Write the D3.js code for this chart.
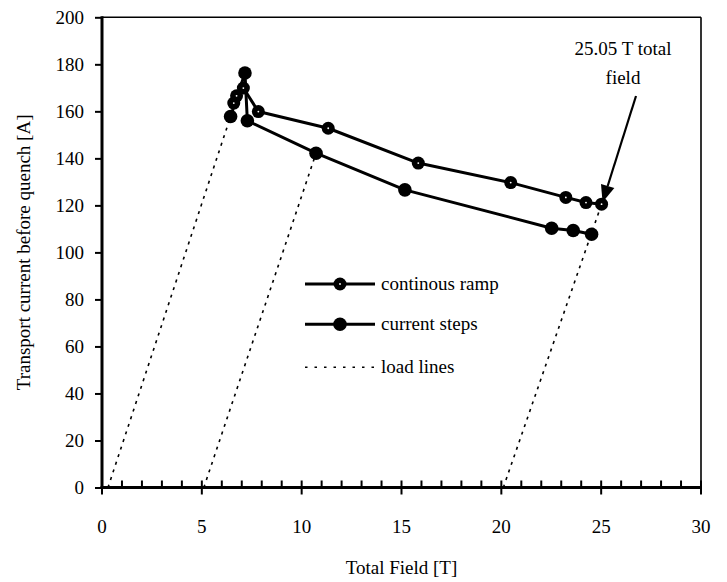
<!DOCTYPE html>
<html>
<head>
<meta charset="utf-8">
<script src="https://cdn.jsdelivr.net/npm/d3@7"></script>
<style>
html,body{margin:0;padding:0;background:#fff;}
svg{display:block;}
svg text{font-family:"Liberation Serif","Times New Roman",serif;}
</style>
</head>
<body>
<svg id="chart" width="727" height="582"></svg>
<script>
// Data (Total Field [T], Transport current [A])
const rampField   = [6.60, 6.74, 7.08, 7.83, 11.33, 15.84, 20.47, 23.23, 24.24, 25.02];
const rampCurrent = [163.5, 166.6, 169.9, 159.9, 152.8, 138.0, 129.7, 123.4, 121.2, 120.5];
const stepField   = [6.44, 7.16, 7.28, 10.72, 15.17, 22.52, 23.60, 24.52];
const stepCurrent = [157.8, 176.3, 156.0, 142.2, 126.6, 110.3, 109.3, 107.7];
const loadLines = [
  [[0.3, 0], [6.44, 157.8]],
  [[5.1, 0], [10.72, 142.2]],
  [[20.1, 0], [25.02, 120.5]]
];
const xTicks = [0, 5, 10, 15, 20, 25, 30];
const yTicks = [0, 20, 40, 60, 80, 100, 120, 140, 160, 180, 200];
const legendLabels = ["continous ramp", "current steps", "load lines"];
const annotationLines = ["25.05 T total", "field"];

const svg = d3.select("#chart");
const L = 102, R = 701, T = 17.3, B = 487.5;
const x = d3.scaleLinear().domain([0, 30]).range([L, R]);
const y = d3.scaleLinear().domain([0, 200]).range([B, T]);
const FS = 19;
const FF = "Liberation Serif";

// frame top/right
svg.append("line").attr("x1", L).attr("x2", R).attr("y1", T).attr("y2", T)
  .attr("stroke", "#000").attr("stroke-width", 1.6);
svg.append("line").attr("x1", R).attr("x2", R).attr("y1", T).attr("y2", B)
  .attr("stroke", "#000").attr("stroke-width", 1.6);

// load lines
const lineGen = d3.line().x(d => x(d[0])).y(d => y(d[1]));
loadLines.forEach(ll => {
  svg.append("path").attr("d", lineGen(ll)).attr("fill", "none")
    .attr("stroke", "#000").attr("stroke-width", 1.6).attr("stroke-dasharray", "3,5");
});

// series lines
const rampData = rampField.map((f, i) => [f, rampCurrent[i]]);
const stepData = stepField.map((f, i) => [f, stepCurrent[i]]);
[stepData, rampData].forEach(data => {
  svg.append("path").attr("d", lineGen(data)).attr("fill", "none")
    .attr("stroke", "#000").attr("stroke-width", 3).attr("stroke-linejoin", "round");
});

function rampMarker(g, cx, cy) {
  g.append("circle").attr("cx", cx).attr("cy", cy).attr("r", 6.5).attr("fill", "#000");
  g.append("circle").attr("cx", cx).attr("cy", cy).attr("r", 0.9).attr("fill", "#fff");
}
function stepMarker(g, cx, cy) {
  g.append("circle").attr("cx", cx).attr("cy", cy).attr("r", 6.8).attr("fill", "#000");
}
stepData.forEach(d => stepMarker(svg, x(d[0]), y(d[1])));
rampData.forEach(d => rampMarker(svg, x(d[0]), y(d[1])));

// axes
const xAxisG = svg.append("g").attr("transform", `translate(0,${B})`);
xAxisG.call(d3.axisBottom(x).tickValues(d3.range(0, 31, 1)).tickSize(0).tickFormat(""));
xAxisG.select(".domain").remove();
xAxisG.attr("font-family", FF).attr("font-size", FS);
d3.range(0, 31, 1).forEach(v => {
  const major = v % 5 === 0;
  xAxisG.append("line").attr("x1", x(v)).attr("x2", x(v))
    .attr("y1", -7).attr("y2", major ? 7 : 0)
    .attr("stroke", "#000").attr("stroke-width", 2);
});
xAxisG.selectAll(".xlab").data(xTicks).enter().append("text")
  .attr("x", d => x(d)).attr("y", 45).attr("text-anchor", "middle")
  .attr("font-family", FF).attr("font-size", FS).attr("fill", "#000").text(d => d);

const yAxisG = svg.append("g").attr("transform", `translate(${L},0)`);
yAxisG.call(d3.axisLeft(y).tickValues(yTicks).tickSize(7).tickPadding(11).tickFormat(d => d));
yAxisG.attr("font-family", FF).attr("font-size", FS);
yAxisG.select(".domain").remove();
yAxisG.selectAll(".tick line").attr("stroke-width", 2);
yAxisG.selectAll(".tick text").attr("font-size", FS).attr("font-family", FF)
  .attr("fill", "#000");

// main axis lines
svg.append("line").attr("x1", L).attr("x2", L).attr("y1", T - 1).attr("y2", B + 1.5)
  .attr("stroke", "#000").attr("stroke-width", 3);
svg.append("line").attr("x1", L - 1.5).attr("x2", R).attr("y1", B).attr("y2", B)
  .attr("stroke", "#000").attr("stroke-width", 3);

// axis titles
svg.append("text").attr("x", (L + R) / 2).attr("y", 574).attr("text-anchor", "middle")
  .attr("font-size", FS).text("Total Field [T]");
svg.append("text").attr("transform", `translate(30,${(T + B) / 2}) rotate(-90)`)
  .attr("text-anchor", "middle").attr("font-size", FS)
  .text("Transport current before quench [A]");

// legend
const legY = [284, 324.3, 367.3];
const lg = svg.append("g");
legendLabels.forEach((lab, i) => {
  if (i < 2) {
    lg.append("line").attr("x1", 305).attr("x2", 375).attr("y1", legY[i]).attr("y2", legY[i])
      .attr("stroke", "#000").attr("stroke-width", 3);
    if (i === 0) rampMarker(lg, 340, legY[i]); else stepMarker(lg, 340, legY[i]);
  } else {
    lg.append("line").attr("x1", 305).attr("x2", 375).attr("y1", legY[i]).attr("y2", legY[i])
      .attr("stroke", "#000").attr("stroke-width", 1.6).attr("stroke-dasharray", "2.5,7");
  }
  lg.append("text").attr("x", 381).attr("y", legY[i]).attr("dy", "0.32em")
    .attr("font-size", FS).text(lab);
});

// annotation
annotationLines.forEach((t, i) => {
  svg.append("text").attr("x", 623).attr("y", 55 + i * 29).attr("text-anchor", "middle")
    .attr("font-size", FS).text(t);
});
const tipX = x(25.02) + 1, tipY = y(120.5) - 2;
const startX = 636, startY = 96;
const ang = Math.atan2(tipY - startY, tipX - startX);
const hl = 17, hw = 7;
const bx = tipX - hl * Math.cos(ang), by = tipY - hl * Math.sin(ang);
svg.append("line").attr("x1", startX).attr("y1", startY).attr("x2", bx).attr("y2", by)
  .attr("stroke", "#000").attr("stroke-width", 2.2);
svg.append("path").attr("d", `M${tipX},${tipY} L${bx + hw * Math.sin(ang)},${by - hw * Math.cos(ang)} L${bx - hw * Math.sin(ang)},${by + hw * Math.cos(ang)} Z`)
  .attr("fill", "#000");
</script>
</body>
</html>
